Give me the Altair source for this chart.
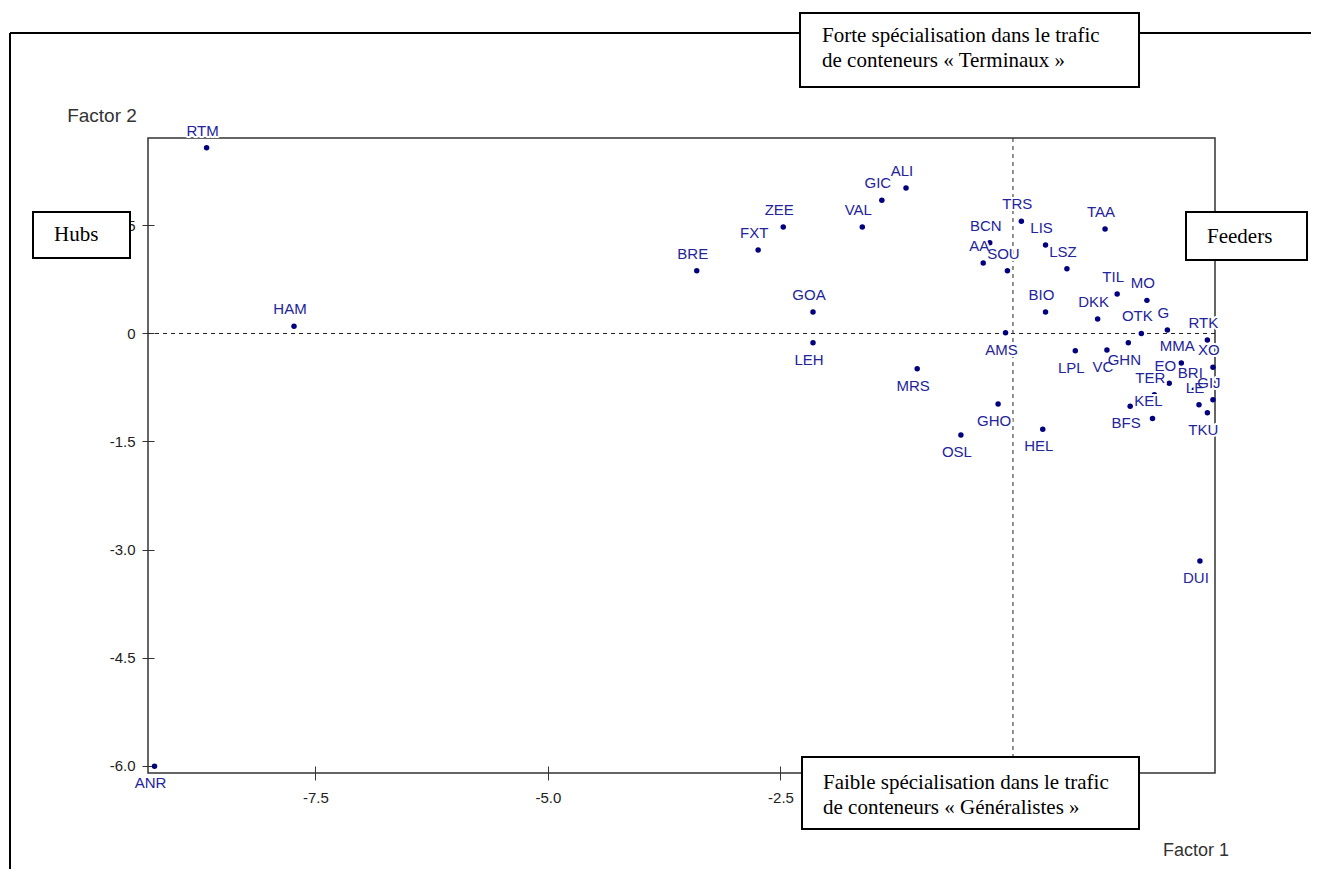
import altair as alt
import pandas as pd

# ---- data ----
ports = ["RTM", "ANR", "HAM", "BRE", "FXT", "ZEE", "GOA", "LEH", "MRS", "VAL",
         "GIC", "ALI", "OSL", "GHO", "AA", "BCN", "SOU", "TRS", "AMS", "LIS",
         "LSZ", "BIO", "HEL", "LPL", "VC", "TAA", "DKK", "TIL", "MO", "OTK",
         "G", "RTK", "GHN", "MMA", "XO", "EO", "BRI", "TER", "LE", "GIJ",
         "KEL", "BFS", "TKU", "DUI"]
factor1 = [-8.67, -9.23, -7.73, -3.40, -2.74, -2.47, -2.15, -2.15, -1.03, -1.62,
           -1.41, -1.15, -0.56, -0.16, -0.32, -0.25, -0.06, 0.09, -0.08, 0.35,
           0.58, 0.35, 0.32, 0.67, 1.01, 0.99, 0.91, 1.12, 1.44, 1.38,
           1.66, 2.09, 1.24, 1.81, 2.15, 1.68, 1.95, 1.52, 2.00, 2.15,
           1.50, 1.26, 2.09, 2.01]
factor2 = [2.58, -6.01, 0.10, 0.87, 1.16, 1.48, 0.30, -0.13, -0.49, 1.48,
           1.85, 2.02, -1.41, -0.98, 0.98, 1.26, 0.87, 1.56, 0.01, 1.23,
           0.90, 0.30, -1.33, -0.24, -0.23, 1.45, 0.20, 0.55, 0.46, 0.00,
           0.05, -0.09, -0.13, -0.41, -0.47, -0.69, -0.78, -0.85, -0.99, -0.92,
           -1.18, -1.01, -1.10, -3.16]
label_side = ["above", "below", "above", "above", "above", "above", "above", "below", "below", "above",
              "above", "above", "below", "below", "above", "above", "above", "above", "below", "above",
              "above", "above", "below", "below", "below", "above", "above", "above", "above", "above",
              "above", "above", "below", "above", "above", "above", "above", "above", "above", "above",
              "above", "below", "below", "below"]

x_ticks = [-7.5, -5.0, -2.5]
y_ticks = [-6.0, -4.5, -3.0, -1.5, 0.0, 1.5]
x_domain = [-9.30, 2.172]
y_domain = [-6.104, 2.715]

top_box_text = ["Forte spécialisation dans le trafic", "de conteneurs « Terminaux »"]
bottom_box_text = ["Faible spécialisation dans le trafic", "de conteneurs « Généralistes »"]
left_box_text = "Hubs"
right_box_text = "Feeders"
x_title = "Factor 1"
y_title = "Factor 2"

df = pd.DataFrame({"port": ports, "f1": factor1, "f2": factor2, "side": label_side})

W, H = 1067, 635
SANS = "'Liberation Sans', Arial, sans-serif"
SERIF = "'Liberation Serif', 'Times New Roman', serif"
LABEL_COLOR = "#23239b"
POINT_COLOR = "#000080"

fmt = "datum.value == 0 ? '0' : (datum.value < 0 ? '-' : '') + format(abs(datum.value), '.1f')"
xs = alt.Scale(domain=x_domain, nice=False, zero=False)
ys = alt.Scale(domain=y_domain, nice=False, zero=False)

x_enc = alt.X("f1:Q", scale=xs, axis=alt.Axis(
    values=x_ticks, labelExpr=fmt, title=None, domain=False, grid=False,
    offset=-7, tickSize=14, tickColor="#333333", tickWidth=1,
    labelPadding=10, labelFont=SANS, labelFontSize=15, labelColor="#222222",
    labelFlush=False, labelOverlap=False))
y_enc = alt.Y("f2:Q", scale=ys, axis=alt.Axis(
    values=y_ticks, labelExpr=fmt, title=None, domain=False, grid=False,
    offset=-6, tickSize=12, tickColor="#333333", tickWidth=1,
    labelPadding=7, labelFont=SANS, labelFontSize=15, labelColor="#222222",
    labelFlush=False, labelOverlap=False))

one = pd.DataFrame({"k": [0]})

# plot frame
frame = alt.Chart(one).mark_rect(filled=False, stroke="#333333", strokeWidth=1.5).encode(
    x=alt.value(0), x2=alt.value(W), y=alt.value(0), y2=alt.value(H))

# outer frame lines
outer_left = alt.Chart(one).mark_rule(color="black", strokeWidth=2).encode(
    x=alt.value(-138), y=alt.value(-105), y2=alt.value(760))
outer_top = alt.Chart(one).mark_rule(color="black", strokeWidth=2).encode(
    x=alt.value(-138), x2=alt.value(1200), y=alt.value(-105))

# dashed zero lines
zero = pd.DataFrame({"f1": [0.0], "f2": [0.0]})
vline = alt.Chart(zero).mark_rule(color="#222222", strokeDash=[4, 4], strokeWidth=1).encode(
    x=alt.X("f1:Q", scale=xs))
hline = alt.Chart(zero).mark_rule(color="#222222", strokeDash=[4, 4], strokeWidth=1).encode(
    y=alt.Y("f2:Q", scale=ys))

base = alt.Chart(df).encode(x=x_enc, y=y_enc)
points = base.mark_circle(size=30, color=POINT_COLOR, opacity=1)

def label_layer(side, dy, halo):
    kw = dict(font=SANS, fontSize=15, dy=dy, dx=-4, align="center", baseline="middle")
    if halo:
        mk = base.mark_text(fill="white", stroke="white", strokeWidth=4, strokeJoin="round", **kw)
    else:
        mk = base.mark_text(color=LABEL_COLOR, **kw)
    return mk.encode(text="port:N").transform_filter(alt.datum.side == side)

halo_above = label_layer("above", -17, True)
halo_below = label_layer("below", 17, True)
lab_above = label_layer("above", -17, False)
lab_below = label_layer("below", 17, False)

def box(x1, x2, y1, y2):
    return alt.Chart(one).mark_rect(fill="white", stroke="black", strokeWidth=2).encode(
        x=alt.value(x1), x2=alt.value(x2), y=alt.value(y1), y2=alt.value(y2))

def btext(txt, x, y, size=21):
    return alt.Chart(one).mark_text(text=txt, font=SERIF, fontSize=size, color="black",
                                    align="left", baseline="middle").encode(
        x=alt.value(x), y=alt.value(y))

top_box = box(652, 991, -125, -51)
top_t1 = btext(top_box_text[0], 674, -102)
top_t2 = btext(top_box_text[1], 674, -77)
bot_box = box(654, 991, 619, 691)
bot_t1 = btext(bottom_box_text[0], 675, 645)
bot_t2 = btext(bottom_box_text[1], 675, 670)
hub_box = box(-115, -18, 74, 120)
hub_t = btext(left_box_text, -94, 97)
feed_box = box(1038, 1159, 74, 122)
feed_t = btext(right_box_text, 1059, 99)

fac2 = alt.Chart(one).mark_text(text=y_title, font=SANS, fontSize=19, color="#333333",
                                align="center", baseline="middle").encode(
    x=alt.value(-46), y=alt.value(-22))
fac1 = alt.Chart(one).mark_text(text=x_title, font=SANS, fontSize=18, color="#333333",
                                align="center", baseline="middle").encode(
    x=alt.value(1048), y=alt.value(713))

chart = alt.layer(
    frame, outer_left, outer_top, vline, hline, points,
    halo_above, halo_below, lab_above, lab_below,
    top_box, top_t1, top_t2, bot_box, bot_t1, bot_t2,
    hub_box, hub_t, feed_box, feed_t, fac2, fac1
).properties(
    width=W, height=H,
    autosize=alt.AutoSizeParams(type="none"),
    padding={"left": 140, "top": 130, "right": 96, "bottom": 96},
    background="white"
).configure_view(strokeWidth=0)

chart.save("out.html", embed_options={"renderer": "svg", "actions": False})
